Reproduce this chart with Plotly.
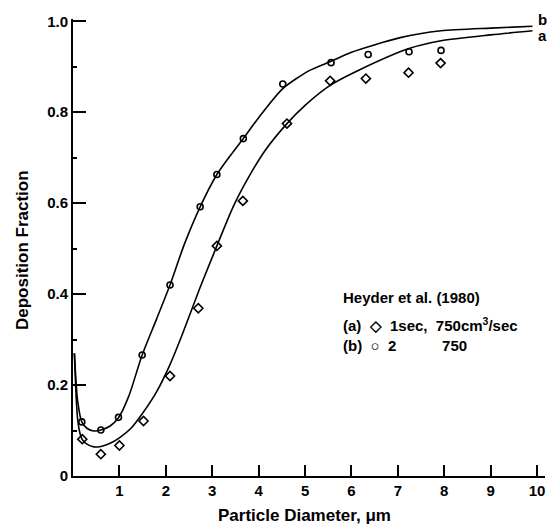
import plotly.graph_objects as go

# Fitted curves
curve_a_x = [0.03, 0.07, 0.1, 0.15, 0.2, 0.3, 0.45, 0.6, 0.8, 1.0, 1.25, 1.5, 1.8, 2.09, 2.35, 2.74, 3.1, 3.45, 3.8, 4.14, 4.61, 5.0, 5.54, 6.19, 7.24, 7.93, 9.0, 9.9]
curve_a_y = [0.27, 0.17, 0.125, 0.094, 0.08, 0.07, 0.064, 0.065, 0.072, 0.084, 0.105, 0.138, 0.185, 0.245, 0.31, 0.415, 0.506, 0.592, 0.66, 0.716, 0.775, 0.815, 0.859, 0.894, 0.94, 0.957, 0.97, 0.979]
curve_b_x = [0.03, 0.1, 0.19, 0.3, 0.45, 0.6, 0.8, 0.98, 1.2, 1.49, 1.8, 2.09, 2.4, 2.74, 3.1, 3.4, 3.67, 4.0, 4.52, 5.1, 5.56, 6.0, 7.05, 7.93, 9.0, 9.9]
curve_b_y = [0.27, 0.165, 0.119, 0.105, 0.099, 0.101, 0.11, 0.128, 0.175, 0.266, 0.345, 0.42, 0.51, 0.592, 0.663, 0.706, 0.742, 0.788, 0.852, 0.892, 0.912, 0.932, 0.964, 0.979, 0.985, 0.989]

# Measured points (Heyder et al. 1980)
pts_a_x = [0.2, 0.6, 1.0, 1.52, 2.09, 2.7, 3.1, 3.66, 4.61, 5.54, 6.31, 7.23, 7.92]
pts_a_y = [0.081, 0.048, 0.067, 0.121, 0.22, 0.369, 0.506, 0.605, 0.775, 0.869, 0.874, 0.887, 0.908]
pts_b_x = [0.19, 0.6, 0.98, 1.49, 2.09, 2.74, 3.1, 3.67, 4.52, 5.56, 6.36, 7.24, 7.93]
pts_b_y = [0.119, 0.101, 0.129, 0.266, 0.42, 0.592, 0.663, 0.742, 0.862, 0.909, 0.927, 0.933, 0.936]

x_ticks = [1, 2, 3, 4, 5, 6, 7, 8, 9, 10]
y_ticks = [0, 0.2, 0.4, 0.6, 0.8, 1.0]
y_tick_text = ["0", "0.2", "0.4", "0.6", "0.8", "1.0"]

FONT = "Liberation Sans"

# plot area target in page pixels: x 73..545, y 19..476
PL, PR, PT, PB = 73, 545, 19, 476
W, H = 550, 527

def px(X):
    return (X - PL) / (PR - PL)

def py(Y):
    return 1 - (Y - PT) / (PB - PT)

fig = go.Figure()
fig.add_trace(go.Scatter(x=curve_a_x, y=curve_a_y, mode="lines",
                         line=dict(color="black", width=1.6, shape="spline", smoothing=0.7)))
fig.add_trace(go.Scatter(x=curve_b_x, y=curve_b_y, mode="lines",
                         line=dict(color="black", width=1.6, shape="spline", smoothing=0.7)))
fig.add_trace(go.Scatter(x=pts_a_x, y=pts_a_y, mode="markers",
                         marker=dict(symbol="diamond-open", size=7, color="black", line=dict(width=1.6))))
fig.add_trace(go.Scatter(x=pts_b_x, y=pts_b_y, mode="markers",
                         marker=dict(symbol="circle-open", size=6, color="black", line=dict(width=1.6))))

fig.update_layout(
    width=W, height=H,
    margin=dict(l=PL, r=W - PR, t=PT, b=H - PB),
    paper_bgcolor="white", plot_bgcolor="white",
    showlegend=False,
    font=dict(family=FONT, size=14, color="black"),
)
fig.update_xaxes(range=[0, 10.17], tickvals=x_ticks, ticktext=[str(v) for v in x_ticks],
                 ticks="inside", ticklen=11, tickwidth=1.5, tickcolor="black",
                 showline=True, linecolor="black", linewidth=1.8, showgrid=False, zeroline=False,
                 automargin=False,
                 tickfont=dict(family=FONT, size=15, weight="bold"))
fig.update_yaxes(range=[0, 1.005], tickvals=y_ticks, ticktext=y_tick_text,
                 ticks="inside", ticklen=13, tickwidth=1.5, tickcolor="black",
                 minor=dict(dtick=0.1, ticks="inside", ticklen=4, tickwidth=1.5, tickcolor="black", showgrid=False),
                 showline=True, linecolor="black", linewidth=1.8, showgrid=False, zeroline=False,
                 automargin=False,
                 tickfont=dict(family=FONT, size=15, weight="bold"))

annos = [
    dict(text="Particle Diameter, μm", x=304, y=515, size=17, anchor="center"),
    dict(text="Heyder et al. (1980)", x=341, y=297, size=15, anchor="left"),
    dict(text="(a)&nbsp;&nbsp;◇&nbsp;&nbsp;1sec,&nbsp;&nbsp;750cm<sup>3</sup>/sec", x=341, y=324, size=15, anchor="left"),
    dict(text="(b)&nbsp;&nbsp;○&nbsp;&nbsp;2&nbsp;&nbsp;&nbsp;&nbsp;&nbsp;&nbsp;&nbsp;&nbsp;&nbsp;&nbsp;&nbsp;750", x=341, y=345, size=15, anchor="left"),
    dict(text="b", x=542, y=20, size=15, anchor="center"),
    dict(text="a", x=542, y=35, size=15, anchor="center"),
]
for a in annos:
    fig.add_annotation(text=a["text"], xref="paper", yref="paper",
                       x=px(a["x"]), y=py(a["y"]),
                       showarrow=False, xanchor=a["anchor"], yanchor="middle",
                       font=dict(family=FONT, size=a["size"], color="black", weight="bold"))

fig.add_annotation(text="Deposition Fraction", xref="paper", yref="paper",
                   x=px(22), y=py(250), textangle=-90,
                   showarrow=False, xanchor="center", yanchor="middle",
                   font=dict(family=FONT, size=17, color="black", weight="bold"))

fig.write_html("out.html", config={"displayModeBar": False},
               post_script="document.body.style.margin='0';document.body.style.overflow='hidden';")
